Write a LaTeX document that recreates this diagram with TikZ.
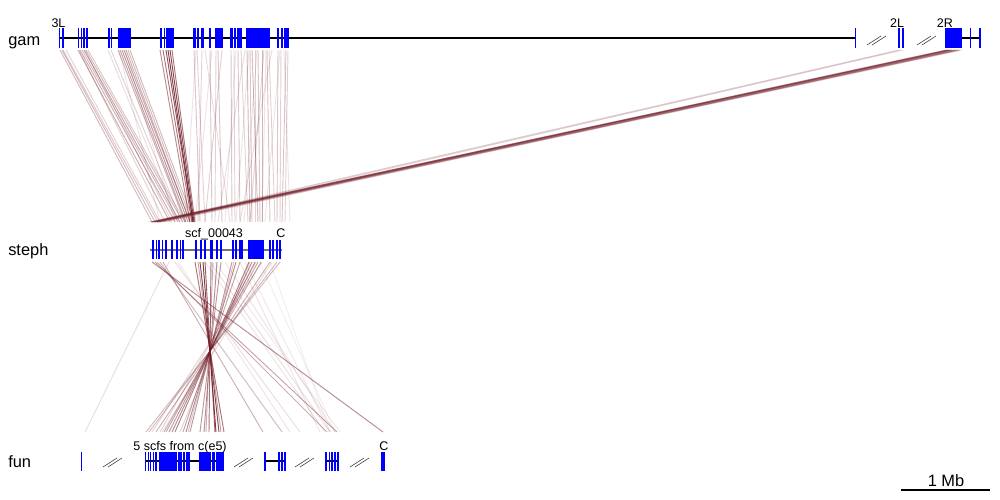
\documentclass[tikz,border=0pt]{standalone}
\usepackage{fontspec}
\setmainfont{Liberation Sans}
\definecolor{lnk}{RGB}{110,25,35}
\def\cutmark(#1,#2){\draw[cut] (#1,#2+5) -- (#1+14,#2-4); \draw[cut] (#1+5,#2+5) -- (#1+19,#2-4);}
\tikzset{
	link/.style={draw=lnk, line width=0.7pt},
	cut/.style={line width=0.45pt, black!75},
	lab/.style={anchor=base, font=\fontsize{9.4}{11}\selectfont, inner sep=0pt},
	trk/.style={anchor=base west, font=\fontsize{12.3}{14}\selectfont, inner sep=0pt},
}

\begin{document}
\begin{tikzpicture}[x=0.75pt, y=-0.75pt]
			%%%%% START %%%%%
			\useasboundingbox (0, 0) rectangle (1000, 500);
			
			% gam -> steph
			\foreach \a/\b/\o in {60/152/.3, 62/155/.3, 63/158/.25, 66/160/.2, 78/170/.35, 80/175/.35, 82/178/.3, 84/180/.4, 86/183/.3, 88/185/.25,
				79/165/.2, 85/172/.2, 108/178/.15, 111/182/.2, 118/185/.35, 120/186/.4, 122/188/.45, 124/190/.4, 126/190/.35, 128/192/.3, 130/194/.3,
				119/160/.12, 125/175/.12, 160/190/.5, 163/192/.6, 166/193/.75, 168/193/.85, 170/194/.8, 172/195/.6}
				\draw[link, draw opacity=\o] (\a, 50) -- (\b, 222);
			\foreach \a/\b/\o in {194/200/.25, 197/205/.2, 202/198/.2, 210/212/.25, 216/215/.2, 218/222/.25, 222/205/.2, 231/232/.25,
				234/235/.2, 238/240/.25, 241/248/.2, 247/250/.3, 250/252/.25, 252/258/.3, 255/255/.2, 258/260/.25, 262/262/.3,
				264/250/.2, 267/270/.25, 269/275/.2, 278/277/.25, 281/280/.2, 286/282/.25, 288/285/.2, 205/230/.15, 245/218/.15, 272/240/.15,
				196/185/.12, 212/195/.12, 236/225/.12, 249/236/.12, 257/244/.12, 266/262/.12, 280/265/.12, 284/290/.12}
				\draw[link, draw opacity=\o] (\a, 50) -- (\b, 222);
			\foreach \a/\b/\o in {945/150/.15, 947/151/.35, 948/152/.5, 950/154/.55, 952/155/.5, 955/157/.45, 958/158/.4, 960/160/.3, 962/163/.15,
				956/165/.12, 953/148/.12, 899/152/.2, 903/155/.15, 901/160/.1}
				\draw[link, draw opacity=\o] (\a, 50) -- (\b, 222);
			
			% steph -> fun
			\foreach \a/\b/\o in {232/190/.45, 236/186/.5, 240/183/.4, 249/175/.55, 252/172/.5, 255/169/.45, 258/166/.4, 261/164/.35,
				270/156/.35, 277/149/.3, 280/146/.3, 195/224/.6, 200/219/.8, 203/216/.85, 205/215/.7, 211/209/.6, 217/204/.5, 221/200/.45,
				234/188/.25, 250/180/.2, 256/160/.2, 262/152/.2, 272/162/.15, 198/221/.4, 213/206/.35}
				\draw[link, draw opacity=\o] (\a, 262) -- (\b, 432);
			\foreach \a/\b/\o in {152/383/.5, 155/337/.4, 157/327/.35, 160/282/.3, 163/263/.35, 175/300/.15, 210/330/.15, 225/335/.12,
				240/320/.12, 169/85/.15, 178/290/.12, 205/325/.12, 215/340/.1, 245/330/.1, 260/335/.08, 270/330/.08}
				\draw[link, draw opacity=\o] (\a, 262) -- (\b, 432);
			
			% gam
			\node[trk] (gam) at (8, 45) {gam};
			\draw[black, line width=0.8pt] (60, 38) -- (855, 38);
			\draw[black, line width=0.8pt] (962, 38) -- (980, 38);
			\foreach \a/\b in {58.5/60, 62/63.5, 77.5/79, 80.5/81.5, 83/85, 86/88, 108/109.5, 111/112, 118/130.5, 160/162, 163.5/165,
				166/174, 193/196, 196.5/198.5, 201/204, 209/211, 215/223, 230/232.5, 233.5/235.5, 237/242, 246/270,
				277/279, 280.5/282.5, 284/288.5, 854.5/856, 898/900, 902/904, 945/962, 969.5/971, 979/980.5}
				\fill[blue] (\a, 28) rectangle (\b, 48);
			\cutmark(867, 40)
			\cutmark(917, 40)
			\node[lab] (g3L) at (58.5, 27) {3L};
			\node[lab] (g2L) at (897, 27) {2L};
			\node[lab] (g2R) at (945, 27) {2R};
			
			% steph
			\node[trk] (steph) at (8, 255) {steph};
			\draw[black!55, line width=1.5pt] (150, 250) -- (282, 250);
			\foreach \a/\b in {152/154, 155.5/157, 158/160, 161.5/163, 164.5/166.5, 171/173, 176/178, 179.5/181, 182/183.5, 195/196.5,
				200/202, 203.5/206, 210/211.5, 212/213, 216/218, 219.5/222, 232/234, 235/237, 238.5/240.5, 241/242.5, 248/263.5,
				269/271, 272/273.5, 276/278, 279/281}
				\fill[blue] (\a, 240) rectangle (\b, 259);
			\node[lab] (sscf) at (214, 237.5) {scf\_00043};
			\node[lab] (sC) at (281, 237.5) {C};
			
			% fun
			\node[trk] (fun) at (8, 467) {fun};
			\draw[black, line width=0.8pt] (145, 461) -- (224, 461);
			\draw[black, line width=0.8pt] (264, 461) -- (285, 461);
			\draw[black, line width=0.8pt] (325, 461) -- (339, 461);
			\foreach \a/\b in {80.5/81.5, 145/146, 147.5/148.5, 150/151, 153/154, 155/157, 159/177, 178/182, 183/184.5, 185.5/190,
				199/211, 212/215, 216/224, 264/266, 278/280, 281/283, 284/285.5,
				325/327, 329/330, 331/333, 334/336, 337/339, 381/382.5, 383/384.5}
				\fill[blue] (\a, 452) rectangle (\b, 471);
			\cutmark(103, 462)
			\cutmark(234, 462)
			\cutmark(295, 462)
			\cutmark(350, 462)
			\node[lab] (ffive) at (180, 450.5) {5 scfs from c(e5)};
			\node[lab] (fC) at (384, 450.5) {C};
			
			% scale
			\node[trk, anchor=base] (scl) at (946, 486.5) {1 Mb};
			\draw[black, line width=0.8pt] (901, 490) -- (990, 490);
			%%%%% END %%%%%
		\end{tikzpicture}
\end{document}
